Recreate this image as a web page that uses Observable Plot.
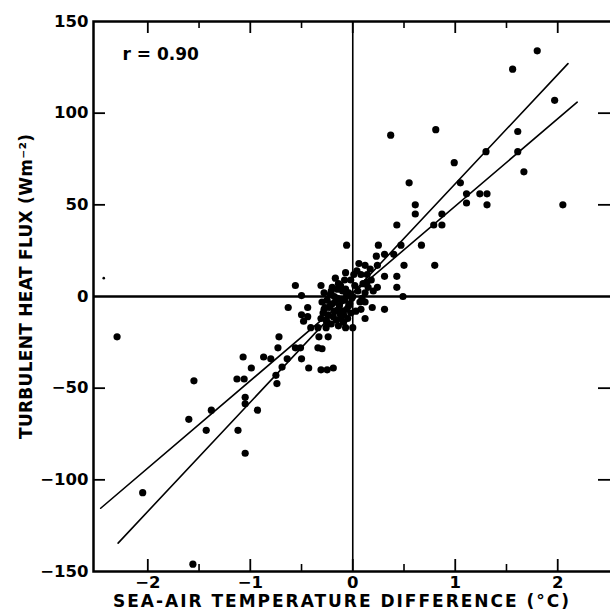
<!DOCTYPE html>
<html><head><meta charset="utf-8">
<script src="https://cdn.jsdelivr.net/npm/d3@7"></script>
<script src="https://cdn.jsdelivr.net/npm/@observablehq/plot@0.6"></script>
<style>body{margin:0;background:#fff;}</style>
</head><body><div id="chart"></div>
<script>
// Sea-air temperature difference (°C)
const tempDiff = [1.80,1.56,1.97,0.81,1.61,1.30,1.61,0.99,1.67,0.55,1.05,1.11,1.24,1.31,2.05,0.61,0.61,1.11,1.31,0.87,0.79,0.87,0.43,0.37,
 -0.06,0.25,0.47,0.67,0.23,0.31,0.40,0.80,0.50,0.12,0.24,-0.07,0.01,0.08,0.14,0.31,0.43,0.43,0.24,-0.56,-0.31,-0.14,-0.50,0.49,
 -0.63,-0.44,-0.50,-0.44,-0.48,-0.31,0.08,0.19,0.31,0.12,0.00,-0.72,-0.73,-0.41,-0.34,-0.26,-0.33,-0.24,-0.56,-0.51,-0.34,-0.30,
 -0.50,-0.43,-0.31,-0.25,-0.19,-0.69,-0.64,-0.87,-0.80,-1.07,-0.99,-1.13,-1.06,-0.75,-0.74,-1.05,-1.05,-0.93,-1.38,-1.55,-1.60,
 -1.43,-1.12,-1.05,-2.05,-2.30,-1.56,
 -0.28,-0.25,-0.27,-0.22,-0.20,-0.18,-0.24,-0.15,-0.13,-0.12,-0.10,-0.08,-0.06,-0.05,-0.16,-0.09,-0.03,-0.04,-0.20,-0.12,-0.02,
 -0.26,-0.10,-0.14,-0.07,0.02,0.05,0.10,0.12,-0.02,0.04,0.15,0.18,0.07,0.03,0.12,0.20,-0.17,-0.08,0.00,-0.30,-0.21,0.06,0.17,
 -0.23,-0.19,-0.29,-0.17,-0.11,-0.07,-0.25,-0.14,-0.04,-0.21,-0.09,-0.01,-0.18,-0.28,-0.12,-0.06,0.09,0.14,-0.15,-0.22];
// Turbulent heat flux (W m-2)
const heatFlux = [134,124,107,91,90,79,79,73,68,62,62,56,56,56,50,50,45,51,50,45,39,39,39,88,
 28,28,28,28,22,23,23,17,17,17,17,13,12,12,12,11,11,5,5,6,6,7,0.5,0,
 -6,-6,-10,-11,-13.5,-12,-7,-6,-7,-12,-17,-22,-28,-17,-17,-17,-22,-22,-28,-28,-28,-28.5,
 -34,-39,-40,-40,-39,-38.5,-34,-33,-34,-33,-39,-45,-45,-43,-47.5,-55,-58.5,-62,-62,-46,-67,
 -73,-73,-85.5,-107,-22,-146,
 2,-2,-6,1,-4,-8,-10,-1,-5,-10,3,-2,-7,-12,-13,-14,-4,2,5,6,-9,
 -13,-8,-16,-17,6,3,7,2,9,14,5,9,-3,-8,-3,3,10,9,0,-3,-15,18,15,
 -6,-11,-9,-3,-2,4,-14,-8,-5,3,-10,-1,0,-7,-12,1,-1,8,4,-5];
// faint speck left of the cloud
const speckX = [-2.43];
const speckY = [10];
// two regression lines (end points)
const steepX = [-2.29, 2.10];
const steepY = [-134.5, 127];
const shallowX = [-2.46, 2.19];
const shallowY = [-115.5, 106];

const xTicks = [-2, -1, 0, 1, 2];
const xMinorTicks = [-1.5, -0.5, 0.5, 1.5];
const yTicks = [-150, -100, -50, 0, 50, 100, 150];
const ySideTicks = [-100, -50, 50, 100];
const rLabel = ["r = 0.90"];
const xTitle = "SEA-AIR TEMPERATURE DIFFERENCE (°C)";
const yTitle = "TURBULENT HEAT FLUX (Wm⁻²)";

const points = tempDiff.map((x, i) => ({x, y: heatFlux[i]}));
const specks = speckX.map((x, i) => ({x, y: speckY[i]}));
const steep = steepX.map((x, i) => [x, steepY[i]]);
const shallow = shallowX.map((x, i) => [x, shallowY[i]]);

const W = 610, H = 613, mL = 93, mR = 0, mT = 21, mB = 42;
const FW = W - mL - mR, FH = H - mT - mB;

const chart = Plot.plot({
  width: W, height: H,
  marginLeft: mL, marginRight: mR, marginTop: mT, marginBottom: mB,
  style: {fontFamily: "DejaVu Sans", fontSize: "16px", fontWeight: "bold", background: "white", color: "black"},
  x: {domain: [-2.53, 2.515], axis: null},
  y: {domain: [-150, 150], axis: null},
  marks: [
    Plot.frame({stroke: "black", strokeWidth: 2.5, insetRight: -6}),
    Plot.ruleX([0], {strokeWidth: 1.6}),
    Plot.ruleY([0], {strokeWidth: 2.5}),
    // inward ticks
    Plot.tickY(ySideTicks, {y: d => d, insetRight: FW - 12, strokeWidth: 1.8}),
    Plot.tickY(ySideTicks, {y: d => d, insetLeft: FW - 12, strokeWidth: 1.8}),
    Plot.tickX(xTicks, {x: d => d, insetTop: FH - 12, strokeWidth: 1.8}),
    Plot.tickX(xMinorTicks, {x: d => d, insetTop: FH - 7, strokeWidth: 1.6}),
    Plot.tickX(xTicks, {x: d => d, insetBottom: FH - 12, strokeWidth: 1.8}),
    Plot.tickX(xMinorTicks, {x: d => d, insetBottom: FH - 7, strokeWidth: 1.6}),
    Plot.axisX(xTicks, {tickSize: 0, tickPadding: 5, label: null, fontSize: 16.5}),
    Plot.axisY(yTicks, {tickSize: 0, tickPadding: 5, label: null, fontSize: 16.5}),
    Plot.line(steep, {strokeWidth: 1.6}),
    Plot.line(shallow, {strokeWidth: 1.6}),
    Plot.dot(points, {x: "x", y: "y", r: 3.6, fill: "black", stroke: "none"}),
    Plot.dot(specks, {x: "x", y: "y", r: 1.3, fill: "black", stroke: "none"}),
    Plot.text(rLabel, {text: d => d, frameAnchor: "top-left", textAnchor: "start", lineAnchor: "middle", dx: 29, dy: 33, fontSize: 17}),
    Plot.text([xTitle], {text: d => d, frameAnchor: "bottom", textAnchor: "middle", lineAnchor: "middle", dx: -11, dy: 30, fontSize: 17}),
    Plot.text([yTitle], {text: d => d, frameAnchor: "left", textAnchor: "middle", lineAnchor: "middle", rotate: -90, dx: -67, dy: -10, fontSize: 17})
  ]
});
document.getElementById("chart").appendChild(chart);
const svg = d3.select(chart);
svg.selectAll("text").filter(function(){ return this.textContent === xTitle; })
  .attr("textLength", 456).attr("lengthAdjust", "spacing");
svg.selectAll("text").filter(function(){ return this.textContent === yTitle; })
  .attr("textLength", 305).attr("lengthAdjust", "spacing");
</script>
</body></html>
